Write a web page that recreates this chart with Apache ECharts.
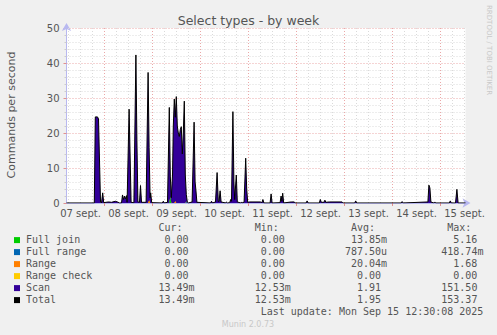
<!DOCTYPE html>
<html><head><meta charset="utf-8">
<script src="https://cdn.jsdelivr.net/npm/echarts@6/dist/echarts.min.js"></script>
<style>html,body{margin:0;padding:0;background:#f0f0f0}#c{width:497px;height:335px}</style>
</head><body><div id="c"></div>
<script>
// ---- data (hours counted from 07 sept. 00:00) ----
const chartTitle = 'Select types - by week';
const yAxisName = 'Commands per second';
const dayLabels = ['07 sept.','08 sept.','09 sept.','10 sept.','11 sept.','12 sept.','13 sept.','14 sept.','15 sept.'];
const dayLabelHours = [12,36,60,84,108,132,156,180,204];
const midnightHours = [24,48,72,96,120,144,168,192];

const hours = [5.0,18.9,19.4,20.5,21.0,22.0,22.5,23.1,23.6,26.0,27.5,29.4,30.5,31.5,32.5,33.0,33.5,34.0,34.5,35.0,35.3,36.3,37.3,38.7,39.7,40.2,40.7,41.5,42.0,42.5,44.8,45.8,46.3,46.8,47.1,47.6,52.9,53.4,53.9,55.5,56.4,56.9,57.4,58.0,58.4,58.9,59.4,59.9,60.4,60.9,61.4,61.9,62.4,62.9,63.4,63.9,64.4,64.9,65.4,66.0,67.8,68.8,69.3,69.7,70.2,77.0,77.5,78.0,79.5,80.3,80.9,81.3,81.8,82.3,84.5,84.95,85.5,86.6,87.1,87.5,88.2,88.7,89.1,89.9,90.4,92.1,92.6,93.1,93.8,94.6,95.1,95.6,96.5,102.0,102.7,103.2,103.7,106.8,107.3,107.8,111.8,112.3,112.7,113.1,113.6,117.4,118.9,119.3,124.8,125.3,125.8,131.4,131.9,132.4,133.7,134.2,134.7,136.5,142.8,143.3,149.1,149.6,150.1,172.3,172.8,173.3,185.7,186.2,186.7,187.2,188.6,189.1,189.6,196.4,196.9,197.4,199.5,200.2,200.8,204.5];
const scan = [0.013,0.013,24.6,24.6,24.0,0.3,0.013,2.9,0.1,0.3,0.2,0.5,0.3,0.013,0.013,2.3,1.0,2.0,1.2,2.1,0.2,26.8,0.2,0.1,42.3,18.0,0.3,0.2,5.0,0.2,0.2,37.3,15.0,1.5,2.9,0.1,0.013,0.5,0.013,0.2,27.3,6.0,1.5,8.0,22.0,29.7,24.0,30.4,22.0,20.0,19.0,21.0,21.8,14.0,20.0,29.1,8.0,2.0,0.3,0.013,0.3,23.1,6.0,3.7,0.2,0.013,0.5,0.013,0.3,8.7,0.4,0.5,3.5,0.3,0.013,0.3,0.013,0.1,1.0,0.5,26.1,6.0,1.0,8.0,0.3,0.013,0.3,0.013,0.3,12.8,4.0,0.2,0.3,0.3,0.1,1.0,0.013,0.013,2.6,0.013,0.1,2.0,0.5,2.8,0.013,0.3,0.3,0.013,0.013,0.6,0.013,0.013,1.0,0.2,0.2,0.8,0.2,0.3,0.3,0.013,0.013,0.6,0.013,0.013,0.4,0.013,0.3,5.1,4.3,0.3,0.013,0.3,0.013,0.013,0.6,0.013,0.013,3.9,0.013,0.013];
const fullJoinHours = [56.9];   const fullJoinVals = [1.7];
const fullRangeHours = [64.9];  const fullRangeVals = [0.4];
const rangeHours = [46.3, 59.4]; const rangeVals = [0.8, 0.5];
const rangeCheckHours = [];     const rangeCheckVals = [];

const legendNames = ['Full join','Full range','Range','Range check','Scan','Total'];
const legendColors = ['#00cc00','#0066b3','#ff8000','#ffcc00','#330099','#000000'];
const curVals = ['0.00','0.00','0.00','0.00','13.49m','13.49m'];
const minVals = ['0.00','0.00','0.00','0.00','12.53m','12.53m'];
const avgVals = ['13.85m','787.50u','20.04m','0.00','1.91','1.95'];
const maxVals = ['5.16','418.74m','1.68','0.00','151.50','153.37'];
const lastUpdate = 'Last update: Mon Sep 15 12:30:08 2025';
const muninVersion = 'Munin 2.0.73';
const sideText = 'RRDTOOL / TOBI OETIKER';

// ---- build ----
function aligned(hs, vs) {
  return hours.map(h => { const k = hs.indexOf(h); return k >= 0 ? vs[k] : 0; });
}
const layers = [
  aligned(fullJoinHours, fullJoinVals),
  aligned(fullRangeHours, fullRangeVals),
  aligned(rangeHours, rangeVals),
  aligned(rangeCheckHours, rangeCheckVals),
  scan
];
// cumulative stack (Munin AREA + STACK)
const cum = [];
layers.forEach((arr, k) => cum.push(arr.map((v, i) => v + (k ? cum[k - 1][i] : 0))));
const total = cum[cum.length - 1];

const minorHours = [];
for (let h = 6; h <= 204; h += 6) if (h % 24 !== 0) minorHours.push(h);

const FONT = 'DejaVu Sans';
const MONO = 'DejaVu Sans Mono';
const TXT = '#555555';

const areaSeries = [];
for (let k = layers.length - 1; k >= 0; k--) {
  areaSeries.push({
    name: legendNames[k], type: 'line', z: 3,
    data: hours.map((h, i) => [h, cum[k][i]]),
    showSymbol: false, symbol: 'none',
    lineStyle: { width: 0, opacity: 0 },
    areaStyle: { color: legendColors[k], opacity: 1 },
    animation: false, silent: true
  });
}

const g = [];
g.push({ type: 'text', x: 248.5, y: 20, style: { text: chartTitle, font: '12.5px "' + FONT + '"', fill: TXT, textAlign: 'center', textVerticalAlign: 'middle' } });
g.push({ type: 'text', x: 11, y: 115, rotation: Math.PI / 2, style: { text: yAxisName, font: '11px "' + FONT + '"', fill: TXT, textAlign: 'center', textVerticalAlign: 'middle' } });
g.push({ type: 'text', x: 488.5, y: 5, rotation: -Math.PI / 2, style: { text: sideText, font: '7px "' + FONT + '"', fill: '#c8c8c8', textAlign: 'left', textVerticalAlign: 'middle' } });

const colEnds = [188.5, 284.8, 381.1, 477.4];
const headers = ['Cur:', 'Min:', 'Avg:', 'Max:'];
const headerY = 227.5;
headers.forEach((t, j) => g.push({ type: 'text', x: colEnds[j] - 6, y: headerY, style: { text: t, font: '10px "' + MONO + '"', fill: TXT, textAlign: 'right', textVerticalAlign: 'middle' } }));
const cols = [curVals, minVals, avgVals, maxVals];
legendNames.forEach((n, i) => {
  const y = 239.6 + i * 12;
  g.push({ type: 'rect', shape: { x: 14, y: y - 2.5, width: 6, height: 6 }, style: { fill: legendColors[i] } });
  g.push({ type: 'text', x: 26, y: y, style: { text: n, font: '10px "' + MONO + '"', fill: TXT, textAlign: 'left', textVerticalAlign: 'middle' } });
  cols.forEach((arr, j) => {
    const s = arr[i];
    const m = s.match(/^([\d.]+)([a-zA-Z]?)$/);
    g.push({ type: 'text', x: colEnds[j], y: y, style: { text: m[1], font: '10px "' + MONO + '"', fill: TXT, textAlign: 'right', textVerticalAlign: 'middle' } });
    if (m[2]) g.push({ type: 'text', x: colEnds[j], y: y, style: { text: m[2], font: '10px "' + MONO + '"', fill: TXT, textAlign: 'left', textVerticalAlign: 'middle' } });
  });
});
g.push({ type: 'text', x: 483.4, y: 311.7, style: { text: lastUpdate, font: '10px "' + MONO + '"', fill: TXT, textAlign: 'right', textVerticalAlign: 'middle' } });
g.push({ type: 'text', x: 248, y: 324, style: { text: muninVersion, font: '8px "' + FONT + '"', fill: '#c8c8c8', textAlign: 'center', textVerticalAlign: 'middle' } });

const chart = echarts.init(document.getElementById('c'), null, { renderer: 'svg', width: 497, height: 335 });
chart.setOption({
  backgroundColor: '#f0f0f0',
  animation: false,
  grid: { left: 66.5, right: 31.5, top: 28, bottom: 132, show: true, backgroundColor: '#ffffff', borderWidth: 0 },
  xAxis: {
    type: 'value', min: 5, max: 204.5,
    axisLine: { show: true, lineStyle: { color: '#b8b8f0', width: 1 }, symbol: ['none', 'arrow'], symbolSize: [7, 8], symbolOffset: [0, 5] },
    axisTick: { show: true, customValues: midnightHours, length: 3, lineStyle: { color: '#e09090' } },
    axisLabel: { show: true, customValues: dayLabelHours, formatter: v => dayLabels[dayLabelHours.indexOf(v)] || '', color: TXT, fontSize: 10, fontFamily: FONT, margin: 5 },
    splitLine: { show: false }
  },
  yAxis: {
    type: 'value', min: 0, max: 50, interval: 10,
    axisLine: { show: true, lineStyle: { color: '#b8b8f0', width: 1 }, symbol: ['none', 'arrow'], symbolSize: [7, 8], symbolOffset: [0, 5] },
    axisTick: { show: true, length: 3, lineStyle: { color: '#e09090' } },
    minorTick: { show: true, splitNumber: 5, length: 2, lineStyle: { color: '#cccccc' } },
    axisLabel: { color: TXT, fontSize: 10, fontFamily: FONT, margin: 7 },
    splitLine: { show: true, lineStyle: { color: '#eaa8a8', type: [1, 2], width: 1 } },
    minorSplitLine: { show: true, lineStyle: { color: '#dadada', type: [1, 2], width: 1 } }
  },
  graphic: g,
  series: [
    {
      name: 'grid', type: 'line', data: [[5, 0]], symbol: 'none', z: 1, silent: true,
      lineStyle: { opacity: 0 },
      markLine: {
        silent: true, symbol: ['none', 'none'], label: { show: false }, animation: false, z: 1,
        data: minorHours.map(h => ({ xAxis: h, lineStyle: { color: '#dadada', type: [1, 2], width: 1 } }))
          .concat(midnightHours.map(h => ({ xAxis: h, lineStyle: { color: '#eaa8a8', type: [1, 2], width: 1 } })))
      }
    },
    ...areaSeries,
    {
      name: 'Total', type: 'line', z: 4, data: hours.map((h, i) => [h, total[i]]),
      showSymbol: false, symbol: 'none', lineStyle: { color: '#000000', width: 1 }, animation: false, silent: true
    }
  ]
});
</script>
</body></html>
